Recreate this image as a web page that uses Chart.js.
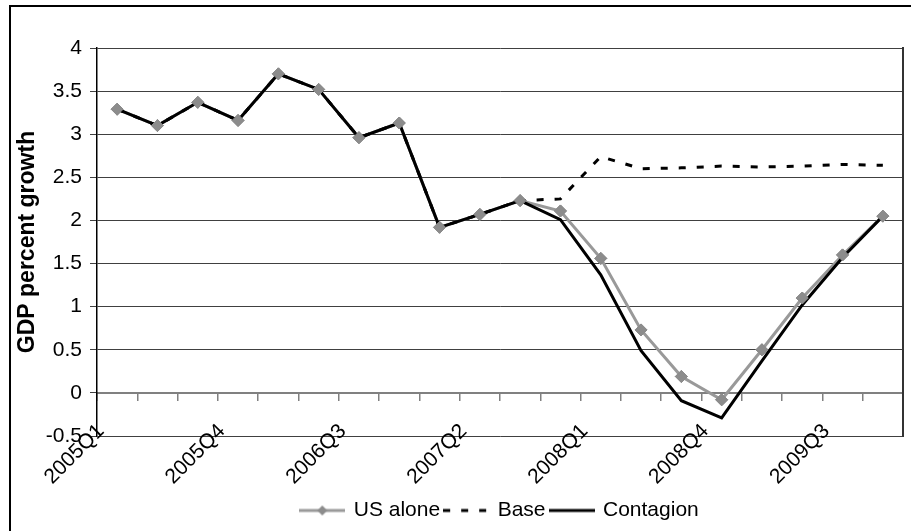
<!DOCTYPE html>
<html>
<head>
<meta charset="utf-8">
<script src="https://cdn.jsdelivr.net/npm/chart.js@4.4.1/dist/chart.umd.min.js"></script>
<style>
html,body{margin:0;padding:0;background:#fff;}
#wrap{width:911px;height:531px;position:relative;}
</style>
</head>
<body>
<div id="wrap"><canvas id="c" width="911" height="531"></canvas></div>
<script>
const categories = ['2005Q1','2005Q2','2005Q3','2005Q4','2006Q1','2006Q2','2006Q3','2006Q4',
  '2007Q1','2007Q2','2007Q3','2007Q4','2008Q1','2008Q2','2008Q3','2008Q4',
  '2009Q1','2009Q2','2009Q3','2009Q4'];
const usAlone   = [3.29,3.10,3.37,3.16,3.70,3.52,2.96,3.13,1.92,2.07,2.23,2.11,1.56,0.73,0.19,-0.08,0.50,1.10,1.60,2.05];
const base      = [3.29,3.10,3.37,3.16,3.70,3.52,2.96,3.13,1.92,2.07,2.23,2.25,2.74,2.60,2.61,2.63,2.62,2.63,2.65,2.64];
const contagion = [3.29,3.10,3.37,3.16,3.70,3.52,2.96,3.13,1.92,2.07,2.23,2.01,1.37,0.49,-0.09,-0.29,0.37,1.02,1.57,2.05];
const xLabelIndices = [0,3,6,9,12,15,18];
const yMin = -0.5, yMax = 4, yStep = 0.5;
const seriesNames = ['US alone','Base','Contagion'];

Chart.defaults.font.family = "'Liberation Sans', Arial, sans-serif";
Chart.defaults.color = '#000';

function legendSample(color, dash, marker) {
  const c = document.createElement('canvas');
  c.width = 46; c.height = 12;
  const g = c.getContext('2d');
  g.strokeStyle = color; g.lineWidth = 3; g.setLineDash(dash);
  g.beginPath(); g.moveTo(0, 6); g.lineTo(46, 6); g.stroke();
  if (marker) {
    g.setLineDash([]);
    g.fillStyle = marker;
    g.beginPath(); g.moveTo(23, 1); g.lineTo(28, 6); g.lineTo(23, 11); g.lineTo(18, 6); g.closePath(); g.fill();
  }
  return c;
}
const legendImgs = [legendSample('#999999', [], '#8c8c8c'), legendSample('#000', [7, 11], null), legendSample('#000', [], null)];

const framePlugin = {
  id: 'frame',
  beforeDraw(chart) {
    const ctx = chart.ctx;
    ctx.save();
    ctx.fillStyle = '#fff';
    ctx.fillRect(0, 0, chart.width, chart.height);
    ctx.strokeStyle = '#000';
    ctx.lineWidth = 2;
    ctx.strokeRect(10, 6, 1000, 1000);
    ctx.restore();
  }
};
const markersOnTop = {
  id: 'markersOnTop',
  afterDatasetsDraw(chart) {
    const meta = chart.getDatasetMeta(0);
    meta.data.forEach(p => p.draw(chart.ctx, chart.chartArea));
  }
};

new Chart(document.getElementById('c'), {
  type: 'line',
  data: {
    labels: categories,
    datasets: [
      { label: seriesNames[0], data: usAlone, borderColor: '#999999', borderWidth: 3,
        pointStyle: 'rectRot', pointRadius: 6, pointBackgroundColor: '#8c8c8c', pointBorderColor: '#8c8c8c',
        pointBorderWidth: 1, tension: 0, order: 3, xAxisID: 'x', yAxisID: 'y' },
      { label: seriesNames[1], data: base, borderColor: '#000', borderWidth: 3, borderDash: [7, 11],
        pointRadius: 0, tension: 0, order: 2, xAxisID: 'x', yAxisID: 'y' },
      { label: seriesNames[2], data: contagion, borderColor: '#000', borderWidth: 3,
        pointRadius: 0, tension: 0, order: 1, xAxisID: 'x', yAxisID: 'y' }
    ]
  },
  options: {
    responsive: false,
    animation: false,
    events: [],
    layout: { padding: { left: 0, right: 8, top: 48, bottom: 0 } },
    plugins: {
      tooltip: { enabled: false },
      legend: {
        position: 'bottom',
        fullSize: false,
        labels: {
          usePointStyle: true,
          pointStyleWidth: 42,
          padding: 5,
          color: '#000',
          font: { size: 21 },
          generateLabels: () => seriesNames.map((n, i) => ({
            text: n, pointStyle: legendImgs[i], fillStyle: '#000', strokeStyle: '#000',
            lineWidth: 0, hidden: false, datasetIndex: i, fontColor: '#000'
          }))
        }
      }
    },
    scales: {
      x: {
        type: 'category',
        offset: true,
        position: { y: 0 },
        grid: { offset: true, drawOnChartArea: false, drawTicks: true, tickLength: 7, color: '#808080', lineWidth: 1.5 },
        border: { display: true, color: '#808080', width: 2 },
        ticks: { display: false }
      },
      xl: {
        type: 'linear',
        position: { y: yMin },
        min: -0.1, max: categories.length - 0.1,
        afterBuildTicks: s => { s.ticks = xLabelIndices.map(v => ({ value: v })); },
        grid: { display: false },
        border: { display: false },
        ticks: { autoSkip: false, minRotation: 45, maxRotation: 45, padding: -25,
          font: { size: 21 }, color: '#000', callback: v => categories[v] }
      },
      xs: {
        type: 'linear',
        position: 'bottom',
        afterFit: s => { s.height = 59; },
        grid: { display: false },
        border: { display: false },
        ticks: { display: false }
      },
      y: {
        position: 'left',
        min: yMin, max: yMax,
        afterFit: s => { s.width = 97; },
        ticks: { stepSize: yStep, padding: 8, font: { size: 21 }, color: '#000',
          callback: v => String(v) },
        grid: { color: '#404040', lineWidth: 1, tickLength: 7, tickColor: '#404040' },
        border: { display: true, color: '#000', width: 1.5 },
        title: { display: true, text: 'GDP percent growth', color: '#000',
          font: { size: 23, weight: 'bold' }, padding: { top: 14, bottom: 0 } }
      },
      y2: {
        position: 'right',
        min: yMin, max: yMax,
        afterFit: s => { s.width = 0; },
        ticks: { display: false },
        grid: { display: false },
        border: { display: true, color: '#333', width: 2 }
      }
    }
  },
  plugins: [framePlugin, markersOnTop]
});
</script>
</body>
</html>
